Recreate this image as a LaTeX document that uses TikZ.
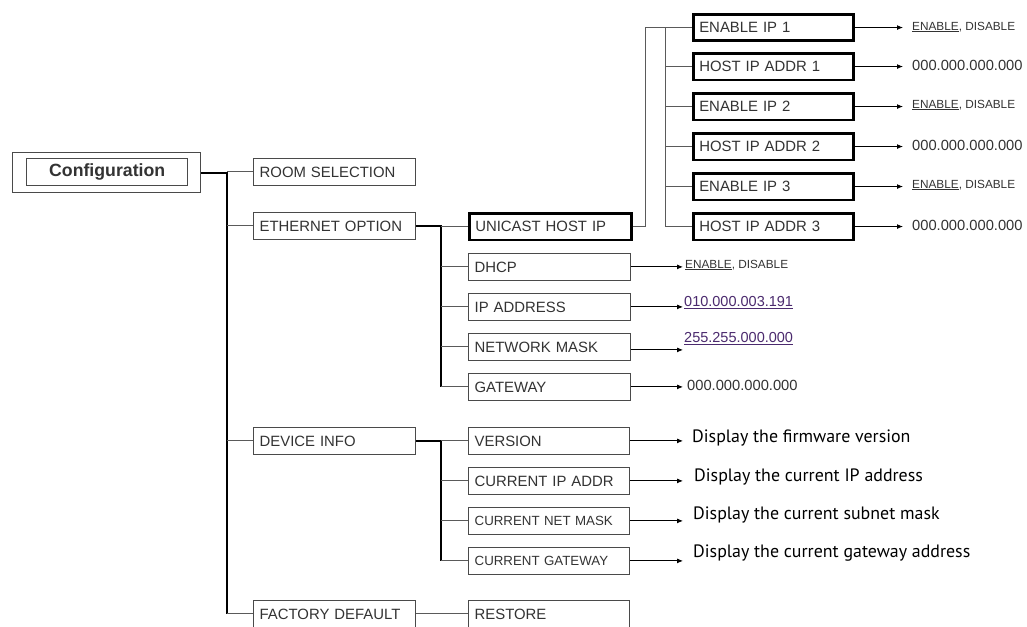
\documentclass[tikz,border=0pt]{standalone}
\usepackage{fontspec}
\setmainfont{Liberation Sans}
\newfontfamily\dispfont{PT Sans}
\usetikzlibrary{arrows.meta,calc}
\definecolor{boxgray}{HTML}{4A4A4A}
\definecolor{txtgray}{HTML}{333333}
\definecolor{linkpurple}{HTML}{4B2A6E}
\definecolor{stubgray}{HTML}{5A5A5A}
\tikzset{
  box/.style={draw=boxgray, line width=1.3pt, anchor=north west, inner xsep=6pt, inner ysep=0pt,
    text width=#1, minimum height=26.5pt, align=left, text=txtgray,
    font=\fontsize{14.9}{17}\selectfont},
  box/.default=150pt,
  tbox/.style={box=#1, draw=black, line width=2.6pt},
  tbox/.default=148pt,
  smallbox/.style={box, font=\fontsize{13.3}{16}\selectfont},
  trunk/.style={draw=black, line width=1.7pt},
  stub/.style={draw=stubgray, line width=1pt},
  arr/.style={draw=black, line width=0.9pt, -{Latex[length=6pt,width=5pt]}},
  valtxt/.style={anchor=west, inner sep=0pt, text=txtgray, font=\fontsize{14.7}{17}\selectfont},
  entxt/.style={anchor=west, inner sep=0pt, text=txtgray, font=\fontsize{11.8}{14}\selectfont},
  linktxt/.style={anchor=west, inner sep=0pt, text=linkpurple, font=\fontsize{14.5}{17}\selectfont},
  disptxt/.style={anchor=west, inner sep=0pt, text=black, font=\dispfont\fontsize{17.9}{20}\selectfont},
}
\begin{document}
\begin{tikzpicture}[x=1pt,y=-1pt]
\useasboundingbox (0,0) rectangle (1027,626);
\fill[white] (0,0) rectangle (1027,626);

% Configuration
\node[draw=boxgray, line width=1.4pt, anchor=north west, minimum width=188pt, minimum height=40pt, inner sep=0pt] (cfgO) at (12,152) {};
\node[draw=boxgray, line width=1.4pt, minimum width=161pt, minimum height=27pt, inner sep=0pt,
  font=\bfseries\fontsize{17.7}{20}\selectfont, text=txtgray] (cfg) at ($(cfgO.center)+(0.5,-0.5)$) {Configuration};

% level 1
\node[box] (room) at (253,158) {ROOM SELECTION};
\node[box] (eth)  at (253,212) {ETHERNET OPTION};
\node[box] (dev)  at (253,427) {DEVICE INFO};
\node[box] (fac)  at (253,600) {FACTORY DEFAULT};

% level 2 ethernet
\node[tbox=150pt] (uni) at (468,212) {UNICAST HOST IP};
\node[box] (dhcp) at (468,253) {DHCP};
\node[box] (ipa)  at (468,293) {IP ADDRESS};
\node[box] (nm)   at (468,333) {NETWORK MASK};
\node[box] (gw)   at (468,373) {GATEWAY};

% level 2 device
\node[box=149pt] (ver) at (468,427) {VERSION};
\node[box=149pt] (cip) at (468,467) {CURRENT IP ADDR};
\node[smallbox, text width=149pt] (cnm) at (468,507) {CURRENT NET MASK};
\node[smallbox, text width=149pt] (cgw) at (468,547) {CURRENT GATEWAY};
\node[box=149pt] (res) at (468,600) {RESTORE};

% level 3 unicast
\node[tbox] (e1) at (692,13)  {ENABLE IP 1};
\node[tbox] (h1) at (692,52)  {HOST IP ADDR 1};
\node[tbox] (e2) at (692,92)  {ENABLE IP 2};
\node[tbox] (h2) at (692,132) {HOST IP ADDR 2};
\node[tbox] (e3) at (692,172) {ENABLE IP 3};
\node[tbox] (h3) at (692,212) {HOST IP ADDR 3};

% trunk coordinates
\coordinate (tA) at (227,0);
\coordinate (tB) at (441,0);
\coordinate (tC) at (645,0);
\coordinate (tD) at (665,0);

% connectors level 1
\draw[trunk] (cfgO.east) -| (tA |- fac.west);
\foreach \n in {room,eth,dev,fac} \draw[stub] (tA |- \n.west) -- (\n.west);

% ethernet
\draw[trunk] (eth.east) -| (tB |- gw.west);
\foreach \n in {uni,dhcp,ipa,nm,gw} \draw[stub] (tB |- \n.west) -- (\n.west);

% device info
\draw[trunk] (dev.east) -| (tB |- cgw.west);
\foreach \n in {ver,cip,cnm,cgw} \draw[stub] (tB |- \n.west) -- (\n.west);

% factory default
\draw[stub] (fac.east) -- (res.west);

% unicast
\draw[stub] (uni.east) -| (tC |- e1.west) -- (e1.west);
\draw[stub] (tD |- e1.west) -- (tD |- h3.west);
\foreach \n in {h1,e2,h2,e3,h3} \draw[stub] (tD |- \n.west) -- (\n.west);

% values, right column
\node[entxt]  (v1) at (912,27)  {\underline{ENABLE}, DISABLE};
\node[valtxt] (v2) at (912,65)  {000.000.000.000};
\node[entxt]  (v3) at (912,105) {\underline{ENABLE}, DISABLE};
\node[valtxt] (v4) at (912,145) {000.000.000.000};
\node[entxt]  (v5) at (912,185) {\underline{ENABLE}, DISABLE};
\node[valtxt] (v6) at (912,225) {000.000.000.000};
\draw[arr, shorten >=9pt] (e1.east) -- (e1.east -| v1.west);
\draw[arr, shorten >=9pt] (h1.east) -- (h1.east -| v2.west);
\draw[arr, shorten >=9pt] (e2.east) -- (e2.east -| v3.west);
\draw[arr, shorten >=9pt] (h2.east) -- (h2.east -| v4.west);
\draw[arr, shorten >=9pt] (e3.east) -- (e3.east -| v5.west);
\draw[arr, shorten >=9pt] (h3.east) -- (h3.east -| v6.west);

% values, middle column
\node[entxt]   (w1) at (685,265) {\underline{ENABLE}, DISABLE};
\node[linktxt] (w2) at (684,303) {\underline{010.000.003.191}};
\node[linktxt] (w3) at (684,339) {\underline{255.255.000.000}};
\node[valtxt]  (w4) at (687,385) {000.000.000.000};
\draw[arr, shorten >=2pt] (dhcp.east) -- (dhcp.east -| w1.west);
\draw[arr, shorten >=1pt] (ipa.east) -- (ipa.east -| w2.west);
\draw[arr, shorten >=1pt] ([yshift=-3pt]nm.east) -- ([yshift=-3pt]nm.east -| w3.west);
\draw[arr, shorten >=4pt] (gw.east) -- (gw.east -| w4.west);

% device info texts
\node[disptxt] (d1) at (692,438) {Display the firmware version};
\node[disptxt] (d2) at (694,477) {Display the current IP address};
\node[disptxt] (d3) at (693,515) {Display the current subnet mask};
\node[disptxt] (d4) at (693,553) {Display the current gateway address};
\draw[arr, shorten >=9pt] (ver.east) -- (ver.east -| d1.west);
\draw[arr, shorten >=11pt] (cip.east) -- (cip.east -| d2.west);
\draw[arr, shorten >=10pt] (cnm.east) -- (cnm.east -| d3.west);
\draw[arr, shorten >=10pt] (cgw.east) -- (cgw.east -| d4.west);
\end{tikzpicture}
\end{document}
